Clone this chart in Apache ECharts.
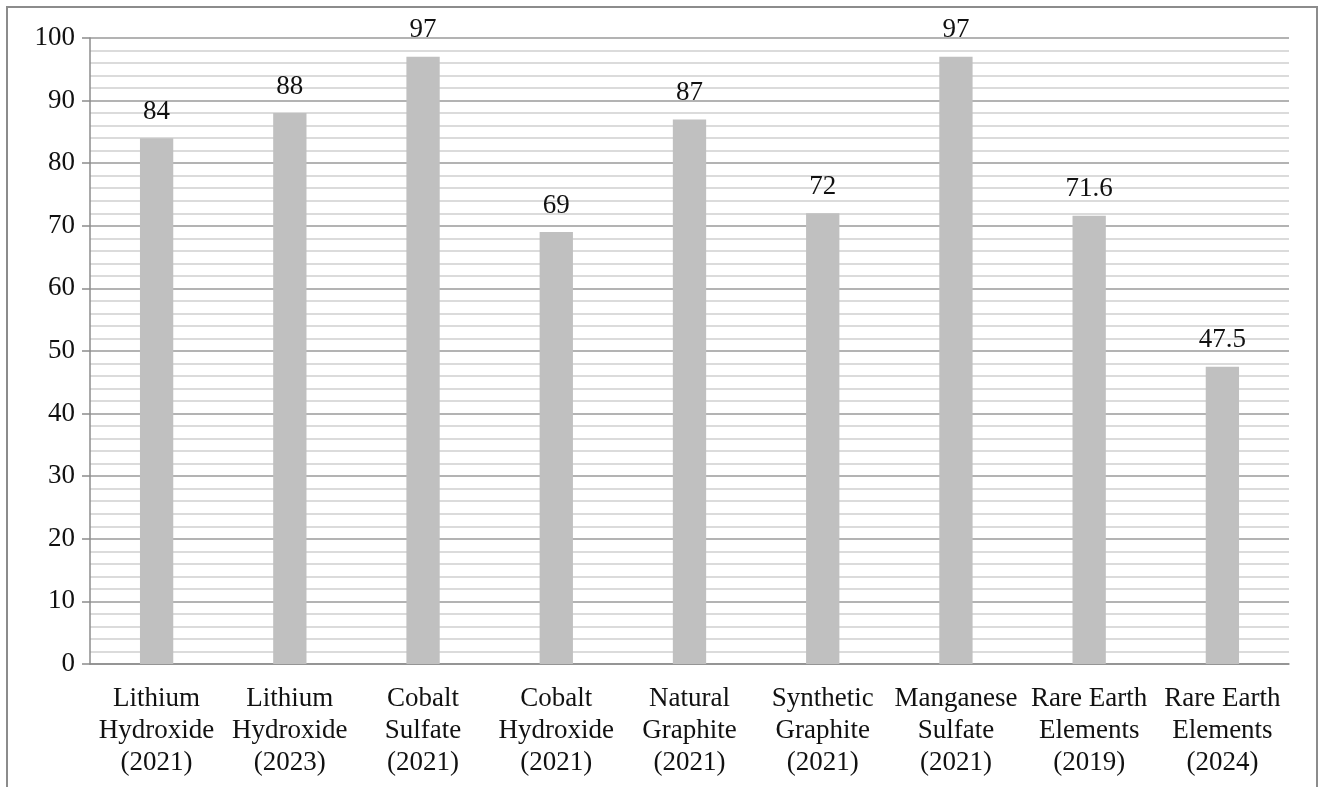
<!DOCTYPE html>
<html>
<head>
<meta charset="utf-8">
<script src="https://cdn.jsdelivr.net/npm/echarts@6/dist/echarts.min.js"></script>
<style>
  html, body { margin: 0; padding: 0; background: #ffffff; }
  #chart { width: 1320px; height: 787px; }
</style>
</head>
<body>
<div id="chart"></div>
<script>
// Share of processing capacity by material (percent)
const categories = [
  'Lithium\nHydroxide\n(2021)',
  'Lithium\nHydroxide\n(2023)',
  'Cobalt\nSulfate\n(2021)',
  'Cobalt\nHydroxide\n(2021)',
  'Natural\nGraphite\n(2021)',
  'Synthetic\nGraphite\n(2021)',
  'Manganese\nSulfate\n(2021)',
  'Rare Earth\nElements\n(2019)',
  'Rare Earth\nElements\n(2024)'
];
const values = [84, 88, 97, 69, 87, 72, 97, 71.6, 47.5];
const yTicks = [0, 10, 20, 30, 40, 50, 60, 70, 80, 90, 100];

const font = '"Liberation Serif", "Times New Roman", serif';
const chart = echarts.init(document.getElementById('chart'), null, { renderer: 'canvas' });

chart.setOption({
  animation: false,
  backgroundColor: '#ffffff',
  graphic: [{
    type: 'rect',
    shape: { x: 7, y: 7, width: 1310, height: 800 },
    style: { fill: 'none', stroke: '#8c8c8c', lineWidth: 2 },
    silent: true
  }],
  grid: { left: 90, right: 31, top: 38, bottom: 123, containLabel: false },
  xAxis: {
    type: 'category',
    data: categories,
    axisLine: { show: true, lineStyle: { color: '#8c8c8c', width: 1.5 } },
    axisTick: { show: false },
    axisLabel: {
      color: '#111',
      fontFamily: font,
      fontSize: 27,
      lineHeight: 32,
      margin: 19,
      interval: 0
    }
  },
  yAxis: {
    type: 'value',
    min: yTicks[0],
    max: yTicks[yTicks.length - 1],
    interval: 10,
    axisLine: { show: true, lineStyle: { color: '#8c8c8c', width: 1.5 } },
    axisTick: { show: true, length: 8, inside: false, lineStyle: { color: '#8c8c8c', width: 1.5 } },
    axisLabel: {
      color: '#111',
      fontFamily: font,
      fontSize: 27,
      margin: 15,
      formatter: v => (yTicks.includes(v) ? String(v) : '')
    },
    splitLine: { show: true, lineStyle: { color: '#9a9a9a', width: 1.5 } },
    minorTick: { show: false, splitNumber: 5 },
    minorSplitLine: { show: true, lineStyle: { color: '#cfcfcf', width: 1.5 } }
  },
  series: [{
    type: 'bar',
    data: values,
    barWidth: '25%',
    itemStyle: { color: '#c0c0c0' },
    label: {
      show: true,
      position: 'top',
      distance: 13,
      color: '#111',
      fontFamily: font,
      fontSize: 27,
      formatter: p => String(p.value)
    }
  }]
});
</script>
</body>
</html>
